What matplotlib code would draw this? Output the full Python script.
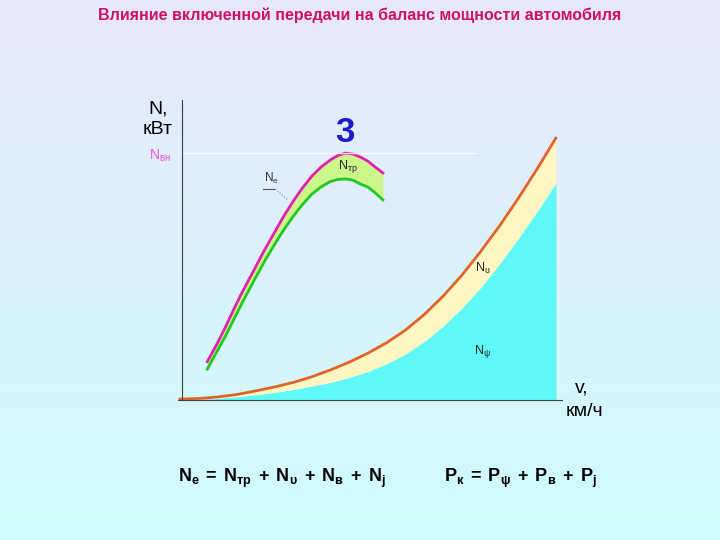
import numpy as np
import matplotlib
matplotlib.use("Agg")
import matplotlib.pyplot as plt

plt.rcParams['font.family'] = ['Liberation Sans', 'DejaVu Sans']
plt.rcParams['mathtext.fontset'] = 'custom'
plt.rcParams['mathtext.rm'] = 'Liberation Sans'
plt.rcParams['mathtext.it'] = 'Liberation Sans'
plt.rcParams['mathtext.bf'] = 'Liberation Sans:bold'

# Engine power curves for 3rd gear (v, km/h -> N, kW)
v_engine = [7.3, 10, 12, 14, 16, 18, 20, 22.5, 25, 27.5, 30, 32.5, 35, 37.5,
            40, 42, 44, 46, 48, 50, 52, 54]
n_e = [12.8, 19, 24, 29.3, 34.5, 39.3, 44, 50, 55.5, 61, 66, 70.5, 74.5, 77.6,
       80, 81.5, 82.3, 82.0, 81, 79.6, 77.6, 75.7]                 # Ne
n_wheel = [10.3, 16.5, 21, 26, 31, 35.8, 40.5, 46.2, 51.5, 56.5, 61, 65, 68.5, 71,
           72.8, 73.5, 73.7, 73.3, 72, 71, 69, 66.7]               # Ne - Nтр

# Resistance power curves
v_road = [0, 5, 10, 15, 20, 25, 30, 35, 40, 45, 50, 55, 60, 65, 70, 75, 80, 85, 90, 95, 100]
n_psi = [0, 0.3, 0.6, 1.1, 1.7, 2.5, 3.5, 4.6, 5.9, 7.5, 9.5, 12.1, 15.3, 19.5,
         24.6, 30.6, 37.5, 45.3, 53.8, 62.8, 72.3]
n_total = [0.3, 0.5, 1.0, 1.8, 3.0, 4.3, 5.8, 7.7, 10.0, 12.6, 15.6, 19.1, 23.3, 28.5,
           34.6, 41.6, 49.5, 58.0, 67.2, 77.0, 87.3]

n_max = 82.3

fig = plt.figure(figsize=(7.2, 5.4), dpi=100)

# background gradient
bg = fig.add_axes([0, 0, 1, 1])
top = np.array([232, 232, 250]) / 255
bot = np.array([206, 252, 252]) / 255
t = np.linspace(0, 1, 256)[:, None]
grad = top * (1 - t) + bot * t
bg.imshow(grad[:, None, :], aspect='auto', extent=[0, 1, 0, 1])
bg.axis('off')

ax = fig.add_axes([178 / 720, 140 / 540, 383.5 / 720, 300 / 540])
ax.patch.set_alpha(0)
ax.set_xlim(-0.5, 101.5)
ax.set_ylim(0, 100)

ax.fill_between(v_road, 0, n_psi, color='#5EF8F8', lw=0)
ax.fill_between(v_road, n_psi, n_total, color='#FFF6C4', lw=0)
ax.plot(v_road, n_total, color='#E0642A', lw=2)

ax.fill_between(v_engine, n_wheel, n_e, color='#CCF58A', lw=0)
ax.plot(v_engine, n_e, color='#E020B0', lw=2)
ax.plot(v_engine, n_wheel, color='#22C822', lw=2)

ax.plot([0, 79], [n_max, n_max], color='white', lw=1, alpha=0.8)

# leader for Ne label
ax.plot([22.1, 25.3], [70.3, 70.3], color='#555555', lw=0.8)
ax.plot([25.3, 28.7], [70.3, 66.7], color='#888888', lw=0.8, ls=':')

for s in ['top', 'right']:
    ax.spines[s].set_visible(False)
ax.spines['left'].set_position(('data', 0.5))
ax.spines['left'].set_color('#404040')
ax.spines['bottom'].set_color('#404040')
ax.set_xticks([])
ax.set_yticks([])

def px(x, y):
    return x / 720, 1 - y / 540

fig.text(*px(360, 15), 'Влияние включенной передачи на баланс мощности автомобиля',
         ha='center', va='center', fontsize=11.5, fontweight='bold', color='#CC1166')
fig.text(*px(158, 109), 'N,', ha='center', va='center', fontsize=14)
fig.text(*px(158, 129), 'кВт', ha='center', va='center', fontsize=14)
fig.text(*px(160, 156), r'N$_{\mathrm{вн}}$', ha='center', va='center', fontsize=10, color='#EE55DD')
fig.text(*px(345, 132), '3', ha='center', va='center', fontsize=25, fontweight='bold', color='#1A1ACC')
fig.text(*px(271, 178), r'N$_{\mathrm{e}}$', ha='center', va='center', fontsize=8.5, color='#333333')
fig.text(*px(348, 167), r'N$_{\mathrm{тр}}$', ha='center', va='center', fontsize=9, color='#222222')
fig.text(*px(483, 268), r'N$_{\mathrm{υ}}$', ha='center', va='center', fontsize=9, color='#222222')
fig.text(*px(482, 351), r'N$_{\mathrm{ψ}}$', ha='center', va='center', fontsize=9, color='#222222')
fig.text(*px(582, 388), 'v,', ha='center', va='center', fontsize=14)
fig.text(*px(584, 412), 'км/ч', ha='center', va='center', fontsize=14)

fig.text(*px(178, 478), r'$\mathbf{N_e\;=\;N_{тр}\;+\;N_υ\;+\;N_в\;+\;N_j}$',
         ha='left', va='center', fontsize=13)
fig.text(*px(444, 478), r'$\mathbf{P_к\;=\;P_ψ\;+\;P_в\;+\;P_j}$',
         ha='left', va='center', fontsize=13)

fig.savefig('out.png', dpi=100)
